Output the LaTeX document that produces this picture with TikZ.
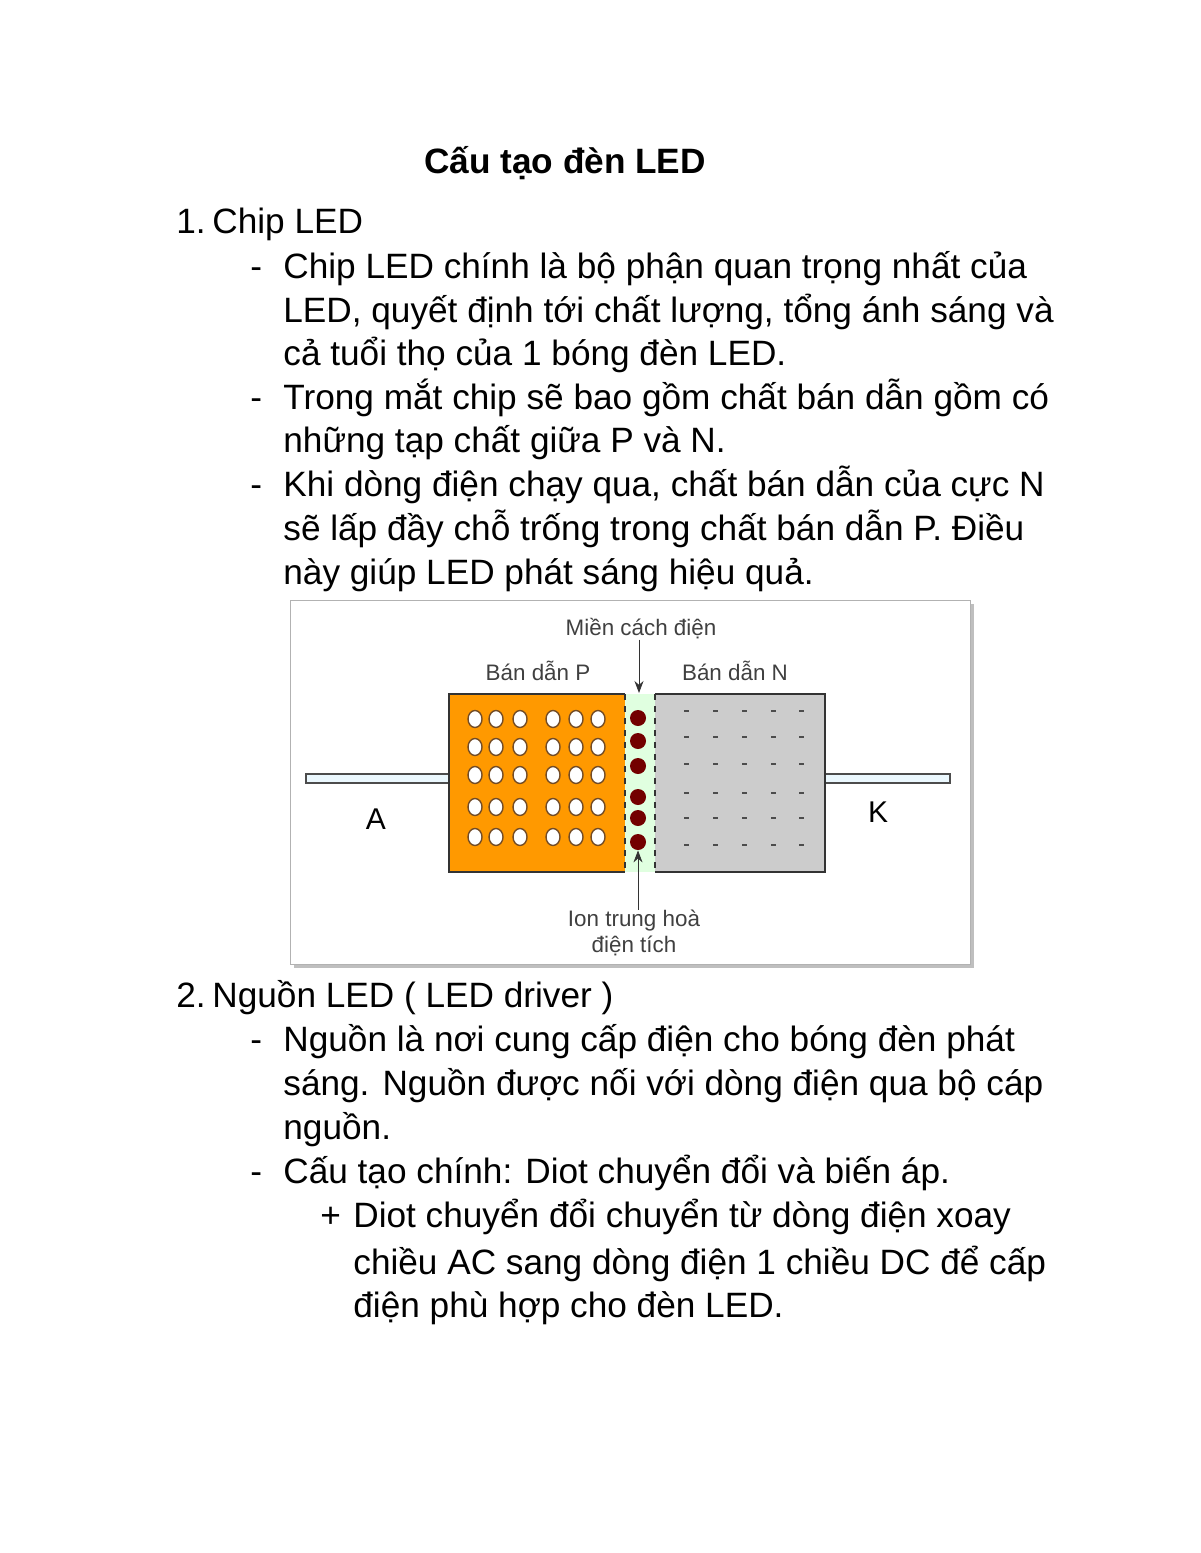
\documentclass[tikz,border=0pt]{standalone}
\usepackage{fontspec}
\setmainfont{Liberation Sans}
\usetikzlibrary{arrows.meta,shapes.geometric}
\begin{document}
\begin{tikzpicture}[x=0.5pt,y=-0.5pt,
  txt/.style={anchor=base west,inner sep=0pt,font=\fontsize{17.6}{20}\selectfont},
  lbl/.style={inner sep=0pt,font=\fontsize{11.2}{13}\selectfont,text=black!75},
  hole/.style={ellipse,draw=brown!60!black,fill=white,minimum width=7pt,minimum height=8.5pt,inner sep=0pt,line width=0.7pt},
  ion/.style={circle,fill=red!45!black,minimum size=8pt,inner sep=0pt}]
\useasboundingbox (0,0) rectangle (1200,1553);
% text
\node[anchor=base,inner sep=0pt,font=\fontsize{17.6}{20}\selectfont\bfseries] (title) at (565,173) {Cấu tạo đèn LED};
\node[txt] (n1) at (176,233) {1.};
\node[txt] (h1) at (212,233) {Chip LED};
\foreach \y in {278,409,496}{\node[txt] at (250,\y) {-};}
\node[txt] (l1) at (283,278) {Chip LED chính là bộ phận quan trọng nhất của};
\node[txt] (l2) at (283,322) {LED, quyết định tới chất lượng, tổng ánh sáng và};
\node[txt] (l3) at (283,365) {cả tuổi thọ của 1 bóng đèn LED.};
\node[txt] (l4) at (283,409) {Trong mắt chip sẽ bao gồm chất bán dẫn gồm có};
\node[txt] (l5) at (283,452) {những tạp chất giữa P và N.};
\node[txt] (l6) at (283,496) {Khi dòng điện chạy qua, chất bán dẫn của cực N};
\node[txt] (l7) at (283,540) {sẽ lấp đầy chỗ trống trong chất bán dẫn P. Điều};
\node[txt] (l8) at (283,584) {này giúp LED phát sáng hiệu quả.};
\node[txt] (n2) at (176,1007) {2.};
\node[txt] (h2) at (212,1007) {Nguồn LED ( LED driver )};
\foreach \y in {1051,1183}{\node[txt] at (250,\y) {-};}
\node[txt] (m1) at (283,1051) {Nguồn là nơi cung cấp điện cho bóng đèn phát};
\node[txt] (m2) at (283,1095) {sáng. Nguồn được nối với dòng điện qua bộ cáp};
\node[txt] (m3) at (283,1139) {nguồn.};
\node[txt] (m4) at (283,1183) {Cấu tạo chính: Diot chuyển đổi và biến áp.};
\node[txt] at (320,1227) {+};
\node[txt] (p1) at (353,1227) {Diot chuyển đổi chuyển từ dòng điện xoay};
\node[txt] (p2) at (353,1274) {chiều AC sang dòng điện 1 chiều DC để cấp};
\node[txt] (p3) at (353,1317) {điện phù hợp cho đèn LED.};
% figure frame
\fill[black!25] (294,604) rectangle (974,968);
\draw[black!30,fill=white] (290,600) rectangle (970,964);
% leads
\draw[black!70,fill=cyan!8,line width=0.7pt] (306,774) rectangle (449,783);
\draw[black!70,fill=cyan!8,line width=0.7pt] (825,774) rectangle (950,783);
% regions
\fill[green!12] (625,694) rectangle (655,872);
\draw[black!80,fill=orange!80!yellow,line width=0.9pt] (625,694) -- (449,694) -- (449,872) -- (625,872);
\draw[black!80,fill=black!20,line width=0.9pt] (655,694) -- (825,694) -- (825,872) -- (655,872);
\draw[black!80,dashed,line width=0.9pt] (625,694) -- (625,872) (655,694) -- (655,872);
\foreach \x in {475,496,520,553,576,598}{
 \foreach \y in {719,747,775,807,837}{\node[hole] at (\x,\y) {};}}
\foreach \y [count=\i] in {718,741,766,797,818,842}{\node[ion] (ion\i) at (638,\y) {};}
\foreach \x in {686,715,744,773,801}{
 \foreach \y in {711,737,764,793,818,845}{\fill[black!70] (\x-2.5,\y-1.3) rectangle (\x+2.5,\y+1.3);}}
% labels
\node[lbl] (mien) at (641,629) {Miền cách điện};
\node[lbl] (bp) at (538,671) {Bán dẫn P};
\node[lbl] (bn) at (735,671) {Bán dẫn N};
\node[font=\fontsize{15}{16}\selectfont,inner sep=0pt] (A) at (376,819) {A};
\node[font=\fontsize{15}{16}\selectfont,inner sep=0pt] (K) at (878,812) {K};
\node[lbl,align=center] (ionl) at (634,933) {Ion trung hoà\\điện tích};
\draw[-{Stealth[length=6pt]},black!80] (mien.south -| 639,0) -- (639,693);
\draw[-{Stealth[length=6pt]},black!80] (ionl.north -| 638,0) -- (ion6.south);
\end{tikzpicture}
\end{document}
